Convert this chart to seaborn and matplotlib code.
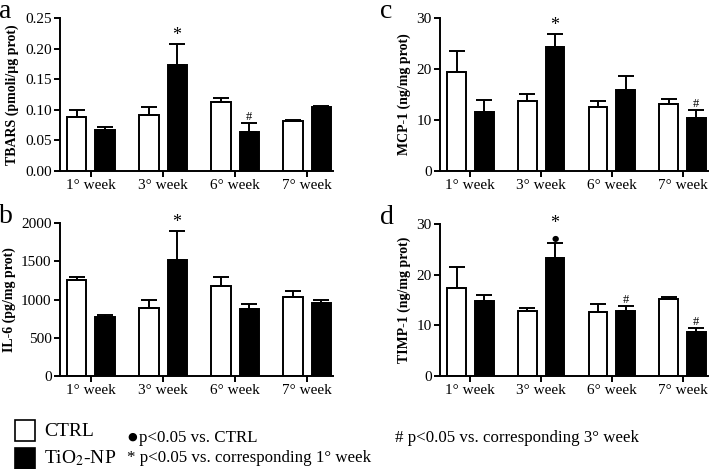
import numpy as np
import pandas as pd
import seaborn as sns
import matplotlib.pyplot as plt
from matplotlib.patches import Rectangle

weeks = ["1° week", "3° week", "6° week", "7° week"]
groups = ["CTRL", "TiO$_2$-NP"]

# means and SEM
tbars_ctrl = [0.088, 0.092, 0.113, 0.082]
tbars_ctrl_err = [0.012, 0.012, 0.006, 0.002]
tbars_tio2 = [0.067, 0.173, 0.064, 0.105]
tbars_tio2_err = [0.005, 0.035, 0.014, 0.002]

il6_ctrl = [1260, 890, 1170, 1030]
il6_ctrl_err = [40, 110, 130, 80]
il6_tio2 = [775, 1520, 880, 955]
il6_tio2_err = [25, 370, 60, 35]

mcp1_ctrl = [19.4, 13.8, 12.6, 13.1]
mcp1_ctrl_err = [4.1, 1.2, 1.1, 1.1]
mcp1_tio2 = [11.6, 24.4, 15.9, 10.3]
mcp1_tio2_err = [2.3, 2.5, 2.8, 1.7]

timp1_ctrl = [17.3, 12.8, 12.6, 15.1]
timp1_ctrl_err = [4.3, 0.6, 1.6, 0.5]
timp1_tio2 = [14.9, 23.3, 12.8, 8.6]
timp1_tio2_err = [1.0, 2.9, 1.1, 0.9]

# significance marks on the TiO2 bars (index -> text list)
tbars_marks = {1: ["*"], 2: ["#"]}
il6_marks = {1: ["*"]}
mcp1_marks = {1: ["*"], 3: ["#"]}
timp1_marks = {1: ["●", "*"], 2: ["#"], 3: ["#"]}

plt.rcParams["font.family"] = ["Liberation Serif", "DejaVu Serif"]
plt.rcParams["mathtext.fontset"] = "stix"

W, H = 709, 469
fig = plt.figure(figsize=(W / 100, H / 100), dpi=100)


def px_axes(left, top, right, bottom):
    return fig.add_axes([left / W, 1 - bottom / H, (right - left) / W, (bottom - top) / H])


def panel(ax, ctrl, ctrl_err, tio2, tio2_err, marks, ylim, yticks, fmt, ylabel, letter):
    df = pd.DataFrame({
        "week": weeks * 2,
        "group": [groups[0]] * 4 + [groups[1]] * 4,
        "value": ctrl + tio2,
    })
    sns.barplot(data=df, x="week", y="value", hue="group", order=weeks,
                hue_order=groups, palette=["white", "black"], edgecolor="black",
                linewidth=1.4, width=0.78, gap=0.32, errorbar=None,
                legend=False, ax=ax)
    errs = [ctrl_err, tio2_err]
    bar_sets = list(ax.containers)
    for k, cont in enumerate(bar_sets):
        xs = [b.get_x() + b.get_width() / 2 for b in cont]
        tops = [b.get_height() for b in cont]
        ax.errorbar(xs, tops, yerr=[np.zeros(4), errs[k]], fmt="none",
                    ecolor="black", elinewidth=1.4, capsize=5.5, capthick=1.4,
                    zorder=1)
        if k == 1:
            for i, txts in marks.items():
                y = tops[i] + tio2_err[i]
                off = 0
                for t in txts:
                    if t == "●":
                        ax.annotate(t, (xs[i], y), xytext=(0, off), textcoords="offset points",
                                    ha="center", va="bottom", fontsize=6,
                                    family=["DejaVu Sans"])
                        off += 8
                    else:
                        ax.annotate(t, (xs[i], y), xytext=(0, off), textcoords="offset points",
                                    ha="center", va="bottom",
                                    fontsize=13 if t == "*" else 9)
    ax.set_xlim(-0.43, 3.36)
    ax.set_ylim(*ylim)
    ax.set_yticks(yticks)
    ax.set_yticklabels([fmt.format(v) for v in yticks], fontsize=11)
    ax.set_xticks(range(4))
    ax.set_xticklabels(weeks, fontsize=11)
    ax.set_xlabel("")
    ax.set_ylabel(ylabel, fontsize=10, fontweight="bold", labelpad=4)
    sns.despine(ax=ax)
    for s in ["left", "bottom"]:
        ax.spines[s].set_linewidth(1.4)
    ax.tick_params(axis="both", width=1.4, length=4, pad=2)
    ax.text(-0.225, 1.045, letter, transform=ax.transAxes, fontsize=20,
            ha="left", va="center")


ax_a = px_axes(60, 18, 333, 171)
panel(ax_a, tbars_ctrl, tbars_ctrl_err, tbars_tio2, tbars_tio2_err, tbars_marks,
      (0, 0.25), [0, 0.05, 0.10, 0.15, 0.20, 0.25], "{:.2f}",
      "TBARS (pmoli/µg prot)", "a")

ax_b = px_axes(60, 223, 333, 376)
panel(ax_b, il6_ctrl, il6_ctrl_err, il6_tio2, il6_tio2_err, il6_marks,
      (0, 2000), [0, 500, 1000, 1500, 2000], "{:.0f}",
      "IL-6 (pg/mg prot)", "b")

ax_c = px_axes(440, 18, 708, 171)
panel(ax_c, mcp1_ctrl, mcp1_ctrl_err, mcp1_tio2, mcp1_tio2_err, mcp1_marks,
      (0, 30), [0, 10, 20, 30], "{:.0f}",
      "MCP-1 (ng/mg prot)", "c")

ax_d = px_axes(440, 224, 708, 376)
panel(ax_d, timp1_ctrl, timp1_ctrl_err, timp1_tio2, timp1_tio2_err, timp1_marks,
      (0, 30), [0, 10, 20, 30], "{:.0f}",
      "TIMP-1 (ng/mg prot)", "d")

# legend / footnotes
fig.patches.append(Rectangle((15 / W, 1 - 441 / H), 20 / W, 21 / H, transform=fig.transFigure,
                             facecolor="white", edgecolor="black", linewidth=1.2))
fig.patches.append(Rectangle((15 / W, 1 - 469 / H), 20 / W, 21 / H, transform=fig.transFigure,
                             facecolor="black", edgecolor="black", linewidth=1.2))
fig.text(44 / W, 1 - 431 / H, "CTRL", fontsize=14, va="center")
fig.text(44 / W, 1 - 458 / H, "TiO$_2$-NP", fontsize=14, va="center")
fig.text(127 / W, 1 - 436.5 / H, "●", fontsize=8, va="center", family=["DejaVu Sans"])
fig.text(139 / W, 1 - 438 / H, "p<0.05 vs. CTRL", fontsize=12.2, va="center")
fig.text(127 / W, 1 - 458 / H, "* p<0.05 vs. corresponding 1° week", fontsize=12.2, va="center")
fig.text(395 / W, 1 - 438 / H, "# p<0.05 vs. corresponding 3° week", fontsize=12.2, va="center")

fig.savefig("out.png", dpi=100)
